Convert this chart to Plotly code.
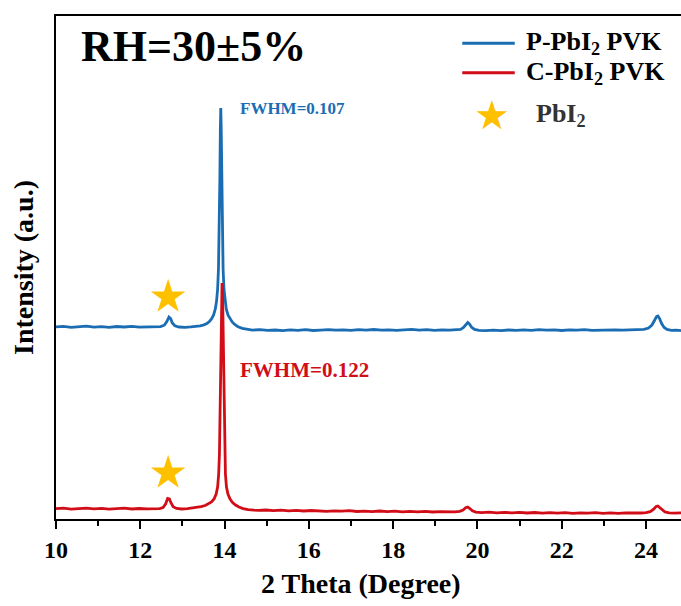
import plotly.graph_objects as go

# XRD patterns recorded at RH = 30 ± 5 %
two_theta_p = [10.00, 10.18, 10.36, 10.54, 10.72, 10.90, 11.08, 11.26, 11.44, 11.62, 11.80, 11.98,
               12.16, 12.34, 12.48, 12.57, 12.63, 12.68, 12.72, 12.76, 12.82, 12.92, 13.06, 13.20,
               13.32, 13.42, 13.51, 13.58, 13.64, 13.69, 13.74, 13.78, 13.81, 13.835, 13.855, 13.872,
               13.888, 13.90, 13.91, 13.92, 13.932, 13.948, 13.965, 13.985, 14.01, 14.04, 14.08, 14.13,
               14.18, 14.24, 14.32, 14.42, 14.54, 14.66, 14.84, 15.02, 15.20, 15.38, 15.56, 15.74,
               15.92, 16.10, 16.28, 16.46, 16.64, 16.82, 17.00, 17.18, 17.36, 17.54, 17.72, 17.90,
               18.08, 18.26, 18.44, 18.62, 18.80, 18.98, 19.16, 19.34, 19.50, 19.60, 19.67, 19.72,
               19.77, 19.81, 19.86, 19.93, 20.04, 20.20, 20.38, 20.56, 20.74, 20.92, 21.10, 21.28,
               21.46, 21.64, 21.82, 22.00, 22.18, 22.36, 22.54, 22.72, 22.90, 23.08, 23.26, 23.44,
               23.62, 23.80, 23.95, 24.06, 24.14, 24.20, 24.25, 24.28, 24.32, 24.37, 24.43, 24.50,
               24.60, 24.72, 24.83]
intensity_p = [192.1, 192.6, 191.7, 192.4, 192.8, 191.9, 192.3, 191.6, 192.5, 192.0, 192.6, 191.8,
               192.2, 191.9, 192.4, 193.8, 197.5, 202.0, 200.5, 196.0, 193.2, 192.0, 191.7, 192.2,
               192.6, 193.2, 194.2, 195.5, 197.5, 200.0, 204.0, 210.0, 218.0, 230.0, 250.0, 285.0,
               340.0, 390.0, 411.0, 390.0, 340.0, 285.0, 250.0, 230.0, 218.0, 210.0, 204.0, 200.0,
               197.0, 194.5, 192.3, 190.6, 189.5, 188.9, 189.3, 188.6, 189.0, 188.4, 189.1, 188.7,
               189.3, 188.5, 188.9, 189.4, 188.8, 189.2, 188.6, 189.3, 188.9, 189.5, 188.8, 189.2,
               188.6, 189.1, 189.6, 188.9, 189.3, 188.7, 189.2, 188.8, 189.0, 189.6, 191.5, 194.5,
               196.5, 195.0, 191.8, 189.6, 188.6, 188.3, 188.9, 188.4, 189.0, 188.6, 189.2, 188.7,
               189.4, 188.9, 189.1, 188.5, 189.2, 188.8, 189.3, 188.7, 189.0, 188.6, 189.2, 188.8,
               189.1, 188.9, 189.6, 191.0, 194.0, 198.5, 202.5, 203.0, 200.5, 195.5, 191.5, 189.6,
               188.6, 188.9, 188.4]

two_theta_c = [10.00, 10.18, 10.36, 10.54, 10.72, 10.90, 11.08, 11.26, 11.44, 11.62, 11.80, 11.98,
               12.16, 12.34, 12.46, 12.54, 12.60, 12.65, 12.69, 12.73, 12.78, 12.86, 12.98, 13.12,
               13.20, 13.32, 13.44, 13.54, 13.62, 13.69, 13.75, 13.80, 13.835, 13.86, 13.878, 13.892,
               13.905, 13.92, 13.932, 13.94, 13.948, 13.96, 13.975, 13.988, 14.002, 14.02, 14.045, 14.08,
               14.13, 14.19, 14.26, 14.34, 14.44, 14.56, 14.70, 14.80, 14.98, 15.16, 15.34, 15.52,
               15.70, 15.88, 16.06, 16.24, 16.42, 16.60, 16.78, 16.96, 17.14, 17.32, 17.50, 17.68,
               17.86, 18.04, 18.22, 18.40, 18.58, 18.76, 18.94, 19.12, 19.30, 19.46, 19.58, 19.66,
               19.72, 19.77, 19.82, 19.88, 19.96, 20.10, 20.28, 20.46, 20.64, 20.82, 21.00, 21.18,
               21.36, 21.54, 21.72, 21.90, 22.08, 22.26, 22.44, 22.62, 22.80, 22.98, 23.16, 23.34,
               23.52, 23.70, 23.88, 24.00, 24.10, 24.18, 24.24, 24.28, 24.32, 24.38, 24.45, 24.55,
               24.68, 24.83]
intensity_c = [10.3, 10.8, 9.9, 10.5, 10.9, 10.1, 10.6, 9.8, 10.4, 10.8, 10.0, 10.5,
               10.2, 10.6, 10.4, 11.5, 15.0, 20.5, 20.0, 16.0, 12.2, 10.6, 10.0, 10.4,
               10.8, 11.4, 12.3, 13.5, 15.0, 17.0, 20.0, 25.0, 32.0, 45.0, 65.0, 99.0,
               150.0, 205.0, 232.0, 236.0, 232.0, 205.0, 150.0, 99.0, 65.0, 45.0, 32.0, 25.0,
               20.0, 16.5, 14.0, 12.0, 10.4, 9.3, 8.8, 8.6, 9.0, 8.3, 8.8, 8.2,
               8.7, 8.0, 8.5, 8.1, 7.6, 8.2, 7.8, 8.3, 7.5, 7.9, 7.4, 8.0,
               7.3, 7.8, 7.2, 7.7, 7.1, 7.6, 7.0, 7.4, 6.9, 7.2, 7.6, 9.0,
               11.2, 12.0, 10.5, 8.2, 6.9, 6.4, 6.9, 6.2, 6.7, 6.1, 6.6, 6.0,
               6.5, 5.9, 6.4, 5.8, 6.3, 5.7, 6.2, 5.8, 6.3, 5.7, 6.1, 5.6,
               6.2, 5.8, 6.0, 6.4, 7.4, 9.8, 12.5, 13.0, 11.6, 8.8, 7.0, 6.2,
               5.8, 6.1]

# PbI2 reflection markers
pbi2_theta = [12.66, 12.66]
pbi2_level = [222, 46]

series_names = ["P-PbI<sub>2</sub> PVK", "C-PbI<sub>2</sub> PVK"]
fwhm_labels = ["FWHM=0.107", "FWHM=0.122"]
x_ticks = [10, 12, 14, 16, 18, 20, 22, 24]

BLUE = "#1b6db3"
RED = "#d10d18"
GOLD = "#ffc000"
SERIF = "Times New Roman, Liberation Serif, serif"

fig = go.Figure()
fig.add_trace(go.Scatter(x=two_theta_p, y=intensity_p, mode="lines",
                         line=dict(color=BLUE, width=2.8), showlegend=False))
fig.add_trace(go.Scatter(x=two_theta_c, y=intensity_c, mode="lines",
                         line=dict(color=RED, width=2.8), showlegend=False))
fig.add_trace(go.Scatter(x=pbi2_theta, y=pbi2_level, mode="markers",
                         marker=dict(symbol="star", size=26, color=GOLD, line=dict(width=0)),
                         showlegend=False))

fig.add_annotation(x=14.32, y=411, text=fwhm_labels[0], showarrow=False, xanchor="left",
                   font=dict(family=SERIF, size=17, color=BLUE, weight="bold"))
fig.add_annotation(x=14.32, y=149, text=fwhm_labels[1], showarrow=False, xanchor="left",
                   font=dict(family=SERIF, size=21, color=RED, weight="bold"))

# title text
fig.add_annotation(xref="paper", yref="paper", x=0.036, y=0.940, text="RH=30±5%",
                   showarrow=False, xanchor="left", yanchor="middle",
                   font=dict(family=SERIF, size=44, color="black", weight="bold"))

# legend
leg_x0, leg_x1 = 0.65, 0.734
for yy, col, name in [(0.946, BLUE, series_names[0]), (0.887, RED, series_names[1])]:
    fig.add_shape(type="line", xref="paper", yref="paper", x0=leg_x0, x1=leg_x1, y0=yy, y1=yy,
                  line=dict(color=col, width=3))
    fig.add_annotation(xref="paper", yref="paper", x=0.748, y=yy, text=name, showarrow=False,
                       xanchor="left", yanchor="middle",
                       font=dict(family=SERIF, size=26, color="black", weight="bold"))
fig.add_annotation(xref="paper", yref="paper", x=0.6976, y=0.803, text="★", showarrow=False,
                   xanchor="center", yanchor="middle",
                   font=dict(family="DejaVu Sans", size=40, color=GOLD))
fig.add_annotation(xref="paper", yref="paper", x=0.764, y=0.803, text="PbI<sub>2</sub>",
                   showarrow=False, xanchor="left", yanchor="middle",
                   font=dict(family=SERIF, size=26, color="#333333", weight="bold"))

fig.update_xaxes(range=[10, 24.83], tickvals=x_ticks, ticks="outside", ticklen=8, tickwidth=2,
                 tickcolor="black", showline=True, linecolor="black", linewidth=2, mirror=True,
                 showgrid=False, zeroline=False,
                 minor=dict(tickvals=[11, 13, 15, 17, 19, 21, 23], ticks="outside", ticklen=5,
                            tickwidth=2, tickcolor="black"),
                 tickfont=dict(family=SERIF, size=24, color="black", weight="bold"))
fig.update_yaxes(range=[0, 503], showticklabels=False, ticks="", showline=True, linecolor="black",
                 linewidth=2, showgrid=False, zeroline=False,
                 title=dict(text="Intensity (a.u.)", standoff=12,
                            font=dict(family=SERIF, size=28, color="black", weight="bold")))

# x-axis title, centred under the visible part of the scan
fig.add_annotation(xref="paper", yref="paper", x=0.488, y=-0.128, text="2 Theta (Degree)",
                   showarrow=False, xanchor="center", yanchor="middle",
                   font=dict(family=SERIF, size=28, color="black", weight="bold"))

fig.update_layout(width=681, height=606, margin=dict(l=56, r=0, t=16, b=87),
                  plot_bgcolor="white", paper_bgcolor="white")

fig.write_html("out.html")
